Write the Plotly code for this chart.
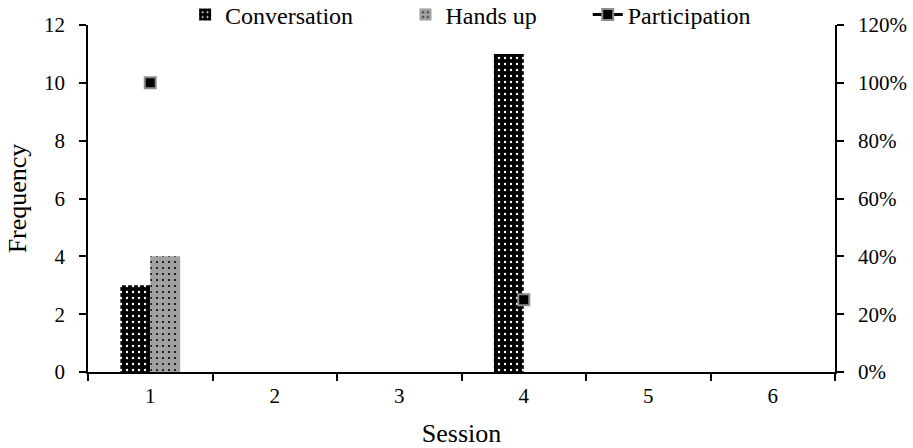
import plotly.graph_objects as go

sessions = ["1", "2", "3", "4", "5", "6"]
conversation = [3, 0, 0, 11, 0, 0]
hands_up = [4, 0, 0, 0, 0, 0]
participation = [1.0, None, None, 0.25, None, None]

font = "Liberation Serif, Times New Roman, serif"

fig = go.Figure()
fig.add_trace(go.Bar(
    x=sessions, y=conversation, name="Conversation", legend="legend",
    marker=dict(color="black", line=dict(width=0),
                pattern=dict(shape=".", bgcolor="black", fgcolor="white",
                             size=6, solidity=0.12, fillmode="replace")),
))
fig.add_trace(go.Bar(
    x=sessions, y=hands_up, name="Hands up", legend="legend2",
    marker=dict(color="#a0a0a0", line=dict(width=0),
                pattern=dict(shape=".", bgcolor="#a0a0a0", fgcolor="black",
                             size=6, solidity=0.1, fillmode="replace")),
))
fig.add_trace(go.Scatter(
    x=sessions, y=participation, name="Participation", yaxis="y2", legend="legend3",
    mode="lines+markers", connectgaps=False,
    line=dict(color="black", width=3),
    marker=dict(symbol="square", size=11, color="black",
                line=dict(color="#8c8c8c", width=2)),
))

leg_common = dict(orientation="h", xanchor="left", yanchor="middle",
                  yref="container", y=1 - 15 / 448,
                  bgcolor="rgba(0,0,0,0)", font=dict(size=24))

fig.update_layout(
    width=913, height=448,
    margin=dict(l=88, r=78, t=25, b=76, autoexpand=False),
    paper_bgcolor="white", plot_bgcolor="white",
    font=dict(family=font, size=21, color="black"),
    barmode="group", bargap=0.52, bargroupgap=0,
    showlegend=True,
    legend=dict(x=0.130, **leg_common),
    legend2=dict(x=0.425, **leg_common),
    legend3=dict(x=0.669, **leg_common),
    xaxis=dict(type="category", title=dict(text="Session", standoff=20, font=dict(size=26)),
               showline=True, linecolor="black", linewidth=1.5,
               ticks="outside", ticklen=7, tickcolor="black", tickwidth=1.5,
               tickson="boundaries", showgrid=False, ticklabelstandoff=4),
    yaxis=dict(title=dict(text="Frequency", standoff=10, font=dict(size=26)),
               range=[0, 12], dtick=2,
               showline=True, linecolor="black", linewidth=1.5,
               ticks="outside", ticklen=7, tickcolor="black", tickwidth=1.5,
               showgrid=False, zeroline=False, ticklabelstandoff=10),
    yaxis2=dict(overlaying="y", side="right", range=[0, 1.2], dtick=0.2,
                tickformat=".0%", showline=True, linecolor="black", linewidth=1.5,
                ticks="outside", ticklen=7, tickcolor="black", tickwidth=1.5,
                showgrid=False, zeroline=False, ticklabelstandoff=10),
)

fig.write_html("out.html")
